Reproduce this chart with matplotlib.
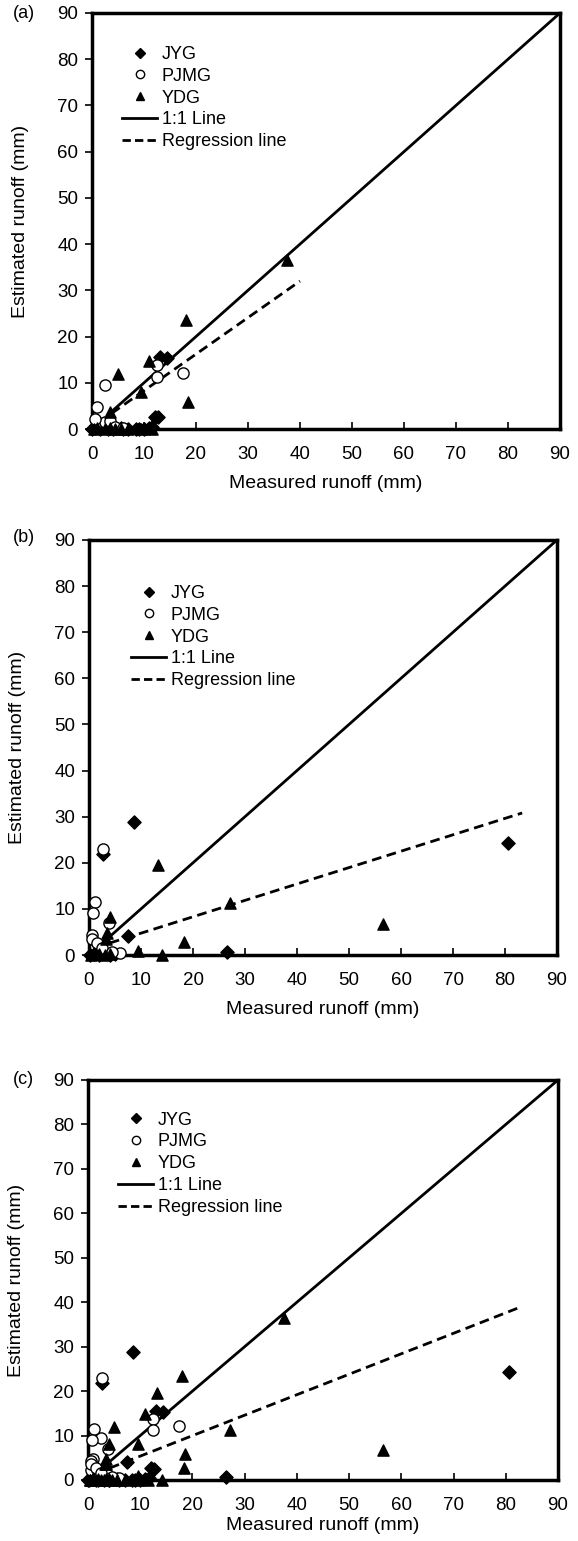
import numpy as np
import matplotlib.pyplot as plt
from matplotlib.lines import Line2D

plt.rcParams['font.family'] = ['Liberation Sans', 'DejaVu Sans']
plt.rcParams['font.size'] = 13

# panel (a) data (measured, estimated), mm
jyg_a_x = [13.0, 14.4, 12.1, 12.7, 0.0, 0.5, 1.5, 2.0, 3.0, 4.0, 5.5, 6.0, 7.0, 8.5, 9.0, 10.0, 11.0, 11.6]
jyg_a_y = [15.5, 15.3, 2.6, 2.5, 0.0, 0.2, 0.0, 0.5, 0.0, 0.0, 0.2, 0.0, 0.0, 0.0, 0.0, 0.0, 0.3, 0.4]
pjmg_a_x = [2.5, 0.9, 12.5, 12.5, 17.5, 1.0, 2.5, 3.5, 4.5, 6.0, 0.5]
pjmg_a_y = [9.5, 4.8, 13.8, 11.2, 12.1, 1.5, 1.5, 1.8, 0.5, 0.3, 2.2]
ydg_a_x = [37.5, 18.0, 5.0, 11.0, 18.5, 9.5, 3.5, 0.3, 1.0, 2.5, 3.5, 4.5, 5.5, 7.0, 9.5, 11.5]
ydg_a_y = [36.5, 23.5, 12.0, 14.8, 5.9, 8.0, 3.7, 0.0, 0.3, 0.0, 0.2, 0.0, 0.0, 0.0, 0.0, 0.0]

# panel (b) data
jyg_b_x = [8.7, 2.7, 7.5, 26.5, 80.6, 0.2, 1.0, 2.0, 3.0, 4.0, 5.0]
jyg_b_y = [28.8, 21.9, 4.1, 0.7, 24.3, 0.0, 0.3, 0.0, 0.4, 0.0, 0.2]
pjmg_b_x = [2.7, 1.2, 0.8, 3.9, 0.6, 0.5, 1.5, 6.0, 2.5, 4.5]
pjmg_b_y = [23.0, 11.5, 9.1, 7.0, 4.3, 3.5, 2.6, 0.4, 1.5, 0.6]
ydg_b_x = [13.3, 27.1, 4.0, 3.4, 18.3, 9.5, 14.1, 56.5, 0.3, 1.0, 2.0, 3.0, 4.0, 3.2]
ydg_b_y = [19.5, 11.3, 8.2, 4.8, 2.8, 0.9, 0.0, 6.7, 0.0, 0.5, 0.2, 0.0, 0.3, 3.5]

# regression line end points per panel
reg_a = ([3.8, 40.0], [3.4, 32.0])
reg_b = ([4.0, 83.3], [2.6, 30.8])
reg_c = ([4.2, 83.0], [2.7, 39.0])
one_a = [3.0, 90.0]
one_b = [4.0, 90.0]
one_c = [4.0, 90.0]

panels = [
    ('(a)', jyg_a_x, jyg_a_y, pjmg_a_x, pjmg_a_y, ydg_a_x, ydg_a_y, reg_a, one_a),
    ('(b)', jyg_b_x, jyg_b_y, pjmg_b_x, pjmg_b_y, ydg_b_x, ydg_b_y, reg_b, one_b),
    ('(c)', jyg_a_x + jyg_b_x, jyg_a_y + jyg_b_y, pjmg_a_x + pjmg_b_x, pjmg_a_y + pjmg_b_y,
     ydg_a_x + ydg_b_x, ydg_a_y + ydg_b_y, reg_c, one_c),
]

W, H = 578, 1541
boxes = [(92, 560, 13, 429), (89, 557, 540, 955), (88, 558, 1080, 1480)]
leg_pos = [(0.064, 0.921), (0.090, 0.892), (0.064, 0.921)]
tag_y = [14, 537, 1080]
xlab_pad = [8.5, 8.5, 2.0]

fig = plt.figure(figsize=(W / 100, H / 100), dpi=100)

for (tag, jx, jy, px, py, yx, yy, reg, one), (l, r, t, b), lp, ty, xp in zip(panels, boxes, leg_pos, tag_y, xlab_pad):
    ax = fig.add_axes([l / W, 1 - b / H, (r - l) / W, (b - t) / H])
    ax.plot(one, one, color='k', lw=2.0, zorder=2)
    ax.plot(reg[0], reg[1], color='k', lw=2.0, ls=(0, (3.5, 2)), zorder=2)
    ax.scatter(jx, jy, marker='D', s=45, c='k', zorder=3, clip_on=False)
    ax.scatter(px, py, marker='o', s=65, facecolors='white', edgecolors='k', linewidths=1.0, zorder=3, clip_on=False)
    ax.scatter(yx, yy, marker='^', s=65, c='k', zorder=3, clip_on=False)

    ax.set_xlim(0, 90)
    ax.set_ylim(0, 90)
    ax.set_xticks(np.arange(0, 91, 10))
    ax.set_yticks(np.arange(0, 91, 10))
    ax.tick_params(axis='x', direction='in', length=5, width=1.2, pad=12.5, labelsize=13.5)
    ax.tick_params(axis='y', direction='out', length=5, width=1.2, pad=5, labelsize=13.5)
    for s in ax.spines.values():
        s.set_linewidth(2.5)
    ax.set_xlabel('Measured runoff (mm)', fontsize=14, labelpad=xp)
    ax.set_ylabel('Estimated runoff (mm)', fontsize=14, labelpad=20)
    fig.text(13 / W, 1 - ty / H, tag, fontsize=13, ha='left', va='center')

    handles = [
        Line2D([], [], ls='none', marker='D', ms=5, color='k'),
        Line2D([], [], ls='none', marker='o', ms=6, mfc='white', mec='k'),
        Line2D([], [], ls='none', marker='^', ms=6, color='k'),
        Line2D([], [], color='k', lw=2.0),
        Line2D([], [], color='k', lw=2.0, ls=(0, (3, 1.5))),
    ]
    ax.legend(handles, ['JYG', 'PJMG', 'YDG', '1:1 Line', 'Regression line'],
              loc='upper left', bbox_to_anchor=lp, frameon=False, fontsize=13,
              handlelength=1.95, handletextpad=0.25, labelspacing=0.27, borderpad=0,
              borderaxespad=0)

fig.savefig('out.png', dpi=100)
